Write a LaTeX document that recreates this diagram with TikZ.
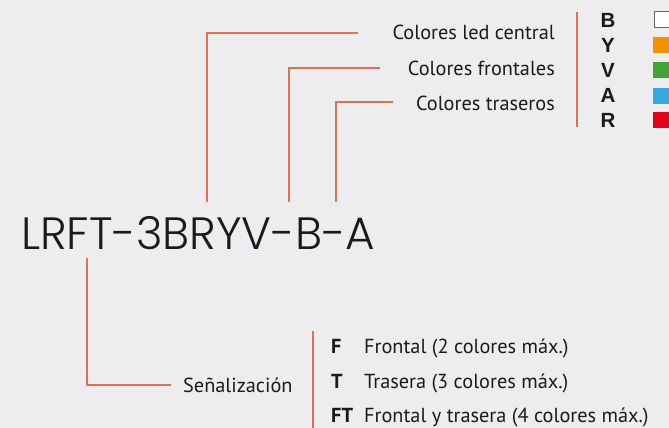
\documentclass[tikz,border=0pt]{standalone}
\usepackage{fontspec}
\setmainfont{PT Sans}
\newfontfamily\codefont{Poppins Light}
\newfontfamily\keyfont{Liberation Sans}
\definecolor{bgcol}{RGB}{237,237,239}
\definecolor{linecol}{RGB}{224,112,80}
\definecolor{swY}{RGB}{243,146,0}
\definecolor{swV}{RGB}{63,165,53}
\definecolor{swA}{RGB}{54,169,225}
\definecolor{swR}{RGB}{227,0,26}
\definecolor{textcol}{RGB}{26,26,26}
\tikzset{
  conn/.style={draw=linecol, line width=1.3pt},
  lbl/.style={inner sep=0pt, text=textcol, font=\fontsize{20.3}{22}\selectfont},
  keyletter/.style={inner sep=0pt, text=textcol, font=\keyfont\bfseries\fontsize{20.5}{22}\selectfont},
  optkey/.style={inner sep=0pt, text=textcol, font=\bfseries\fontsize{20.3}{22}\selectfont},
  swatch/.style={minimum width=20pt, minimum height=16pt, inner sep=0pt, anchor=west}
}
\begin{document}
\begin{tikzpicture}[x=1pt,y=-1pt]
\fill[bgcol] (0,0) rectangle (669,428);
\useasboundingbox (0,0) rectangle (669,428);

% main code
\node[anchor=base west, inner sep=0pt, text=textcol, font=\codefont\fontsize{45.3}{46}\selectfont] (code) at (21,249) {LRFT-3BRYV-B-A};

% upper labels
\node[lbl, anchor=base east] (lc) at (555,40) {Colores led central};
\node[lbl, anchor=base east] (lf) at (555,75) {Colores frontales};
\node[lbl, anchor=base east] (lt) at (555,110) {Colores traseros};

\coordinate (c1a) at (207,202);
\coordinate (c1b) at (358,33);
\coordinate (c2a) at (289,202);
\coordinate (c2b) at (380,68);
\coordinate (c3a) at (336,202);
\coordinate (c3b) at (393,102);
\draw[conn] (c1a) |- (c1b);
\draw[conn] (c2a) |- (c2b);
\draw[conn] (c3a) |- (c3b);

% separator upper
\coordinate (sepAt) at (577,12);
\coordinate (sepAb) at (577,127);
\draw[conn] (sepAt) -- (sepAb);

% key letters
\node[keyletter] (kB) at (608,20) {B};
\node[keyletter] (kY) at (608,45) {Y};
\node[keyletter] (kV) at (608,70) {V};
\node[keyletter] (kA) at (608,95) {A};
\node[keyletter] (kR) at (608,120) {R};

% swatches
\node[swatch, fill=white, draw=gray!80!black, line width=1pt] (sB) at (653.5,20) {};
\node[swatch, fill=swY] (sY) at (653,45) {};
\node[swatch, fill=swV] (sV) at (653,70) {};
\node[swatch, fill=swA] (sA) at (653,95.5) {};
\node[swatch, fill=swR] (sR) at (653,119.5) {};

% lower part
\coordinate (s1) at (87,258);
\coordinate (s2) at (171,385);
\draw[conn] (s1) |- (s2);
\node[lbl, anchor=base west] (sen) at (183,392) {Señalización};

\coordinate (sepBt) at (313,331);
\coordinate (sepBb) at (313,430);
\draw[conn] (sepBt) -- (sepBb);

\node[optkey, anchor=base west] (oF) at (331,353) {F};
\node[lbl, anchor=base west] (dF) at (364,353) {Frontal (2 colores máx.)};
\node[optkey, anchor=base west] (oT) at (331,388) {T};
\node[lbl, anchor=base west] (dT) at (364,388) {Trasera (3 colores máx.)};
\node[optkey, anchor=base west] (oFT) at (331,422.5) {FT};
\node[lbl, anchor=base west] (dFT) at (364,422.5) {Frontal y trasera (4 colores máx.)};
\end{tikzpicture}
\end{document}
